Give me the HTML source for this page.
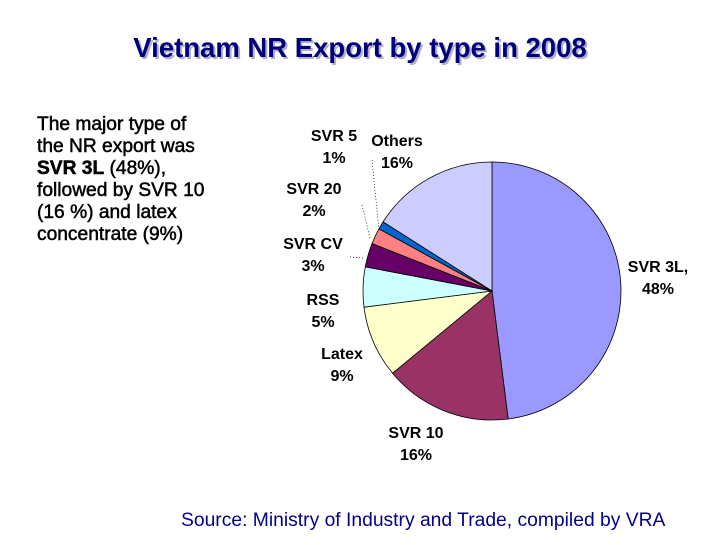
<!DOCTYPE html>
<html><head><meta charset="utf-8"><style>
body{margin:0;width:720px;height:540px;background:#fff;overflow:hidden;font-family:"Liberation Sans",Arial,sans-serif;}
svg text{font-family:"Liberation Sans",Arial,sans-serif;}
</style></head><body>
<svg width="720" height="540">
<text x="362" y="59" text-anchor="middle" font-size="27.5" font-weight="bold" fill="#b0b0c8">Vietnam NR Export by type in 2008</text>
<text x="360" y="57" text-anchor="middle" font-size="27.5" font-weight="bold" fill="#00007a">Vietnam NR Export by type in 2008</text>
<g font-size="19.2" fill="#000" stroke="#000" stroke-width="0.5">
<text x="37" y="130">The major type of</text>
<text x="37" y="152">the NR export was</text>
<text x="37" y="174"><tspan font-weight="bold">SVR 3L</tspan> (48%),</text>
<text x="37" y="196">followed by SVR 10</text>
<text x="37" y="218">(16 %) and latex</text>
<text x="37" y="240">concentrate (9%)</text>
</g>
<g id="pie"></g>
<g id="labels" font-size="16" font-weight="bold" fill="#000" text-anchor="middle"></g>
<g fill="none" stroke="#000" stroke-width="0.7" stroke-dasharray="1,2">
<line x1="372" y1="160" x2="379" y2="230"/>
<line x1="362" y1="205" x2="370" y2="238"/>
<line x1="350" y1="257" x2="363" y2="258"/>
</g>
<text x="181" y="526" font-size="19.3" fill="#00008b">Source: Ministry of Industry and Trade, compiled by VRA</text>
</svg>
<script>
const categories=["SVR 3L","SVR 10","Latex","RSS","SVR CV","SVR 20","SVR 5","Others"];
const values=[48,16,9,5,3,2,1,16];
const colors=["#9999ff","#993366","#ffffcc","#ccffff","#660066","#ff8080","#0066cc","#ccccff"];
const labelText=[["SVR 3L,","48%"],["SVR 10","16%"],["Latex","9%"],["RSS","5%"],["SVR CV","3%"],["SVR 20","2%"],["SVR 5","1%"],["Others","16%"]];
const labelPos=[[658,272],[416,438],[342,359],[323,305],[313,249],[314,194],[334,141],[397,146]];
const cx=492,cy=291,r=129;
const NS="http://www.w3.org/2000/svg";
const pie=document.getElementById('pie');
const total=values.reduce((a,b)=>a+b,0);
let a0=-Math.PI/2;
values.forEach((v,i)=>{
  const a1=a0+v/total*2*Math.PI;
  const x0=cx+r*Math.cos(a0),y0=cy+r*Math.sin(a0),x1=cx+r*Math.cos(a1),y1=cy+r*Math.sin(a1);
  const large=(a1-a0)>Math.PI?1:0;
  const p=document.createElementNS(NS,'path');
  p.setAttribute('d',`M${cx},${cy}L${x0},${y0}A${r},${r} 0 ${large} 1 ${x1},${y1}Z`);
  p.setAttribute('fill',colors[i]);p.setAttribute('stroke','#000');p.setAttribute('stroke-width','0.8');
  
  
  pie.appendChild(p);
  a0=a1;
});
const lg=document.getElementById('labels');
labelText.forEach((t,i)=>{
  const tx=document.createElementNS(NS,'text');
  tx.setAttribute('x',labelPos[i][0]);tx.setAttribute('y',labelPos[i][1]);
  
  
  tx.innerHTML=`<tspan x="${labelPos[i][0]}">${t[0]}</tspan><tspan x="${labelPos[i][0]}" dy="22">${t[1]}</tspan>`;
  lg.appendChild(tx);
});
</script>
</body></html>
